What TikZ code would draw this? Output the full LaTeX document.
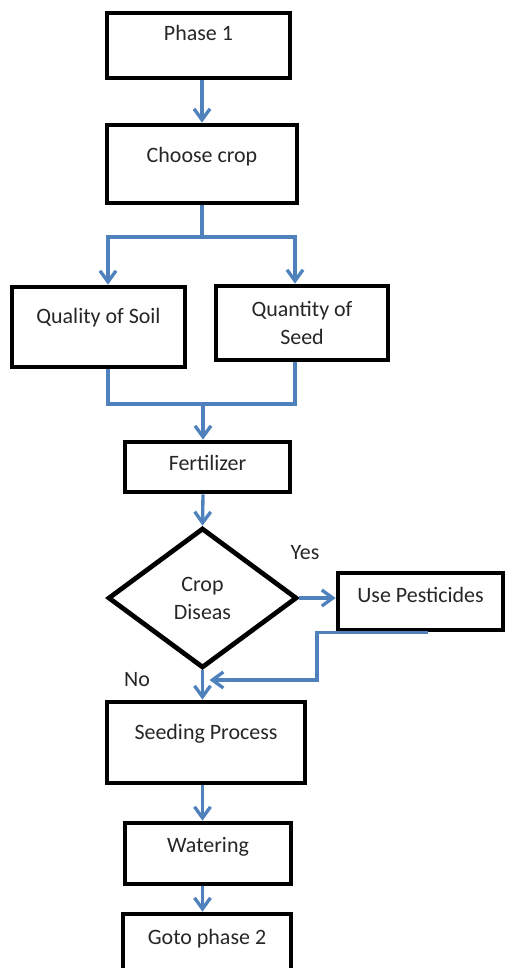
\documentclass[tikz,border=0pt]{standalone}
\usepackage{fontspec}
\setmainfont{Carlito}
\usepackage{xcolor}
\usepackage{tikz}
\usetikzlibrary{shapes.geometric,arrows.meta,positioning}
\definecolor{flowblue}{RGB}{79,129,189}

\begin{document}
\begin{tikzpicture}[
    x=0.02cm, y=-0.02cm,
    box/.style={rectangle, draw, line width=2.7pt, inner sep=0pt, align=center, text=black!85, font=\fontsize{12.5}{16}\selectfont},
    decision/.style={diamond, draw, line width=2.7pt, inner sep=0pt, align=center, text=black!85, font=\fontsize{12.5}{16}\selectfont},
    lbl/.style={text=black!85, font=\fontsize{12.5}{16}\selectfont},
    line/.style={draw=flowblue, line width=1.9pt},
    arrow/.style={line, -{Straight Barb[length=0.22cm, width=0.32cm]}}
]
\useasboundingbox (0,0) rectangle (518,968);
\clip (0,0) rectangle (518,968);

% Nodes
\node[box, minimum width=3.66cm, text height=0.54cm, text depth=0.76cm] (phase1) at (198.5,45.5) {Phase 1};
\node[box, minimum width=3.8cm, text height=0.74cm, text depth=0.82cm] (choose) at (202,164) {Choose crop};
\node[box, minimum width=3.46cm, text height=0.72cm, text depth=0.88cm] (soil) at (98.5,327) {Quality of Soil};
\node[box, minimum width=3.44cm, minimum height=1.48cm] (seed) at (302,323) {Quantity of\\Seed};
\node[box, minimum width=3.3cm, text height=0.56cm, text depth=0.44cm] (fert) at (207.5,467) {Fertilizer};
\node[decision, minimum width=3.78cm, minimum height=2.8cm] (disease) at (202.5,598) {Crop\\Diseas};
\node[box, minimum width=3.3cm, text height=0.58cm, text depth=0.56cm] (pest) at (420.5,601.5) {Use Pesticides};
\node[box, minimum width=3.96cm, text height=0.74cm, text depth=0.88cm] (seeding) at (206,742.5) {Seeding Process};
\node[box, minimum width=3.32cm, text height=0.58cm, text depth=0.64cm] (water) at (208,853.5) {Watering};
\node[box, minimum width=3.36cm, text height=0.6cm, text depth=1.02cm] (goto) at (207,954.5) {Goto phase 2};

% Joints
\coordinate (split) at (202,237);
\coordinate (merge) at (203,404);
\coordinate (turn) at (317,680);

% Arrows
\draw[arrow] (choose.north |- phase1.south) -- (choose.north);
\draw[line] (choose.south) -- (split);
\draw[arrow] (split) -| ([xshift=0.19cm]soil.north);
\draw[arrow] (split) -| ([xshift=-0.14cm]seed.north);
\draw[line] ([xshift=0.19cm]soil.south) |- (merge) -| ([xshift=-0.14cm]seed.south);
\draw[arrow] (merge) -- (merge |- fert.north);
\draw[arrow] (merge |- fert.south) -- (disease.north);
\draw[arrow] (disease.east) -- (pest.west |- disease.east);
\draw[arrow] ([xshift=0.15cm]pest.south) -- (pest.south -| turn) -- (turn) -- ([xshift=4]turn -| disease.south);
\draw[arrow] (disease.south) -- (disease.south |- seeding.north);
\draw[arrow] (seeding.south -| disease.south) -- (water.north -| disease.south);
\draw[arrow] (water.south -| disease.south) -- (goto.north -| disease.south);

% Labels
\node[lbl] (yes) at (305,553) {Yes};
\node[lbl] (no) at (137,680) {No};

\end{tikzpicture}
\end{document}
